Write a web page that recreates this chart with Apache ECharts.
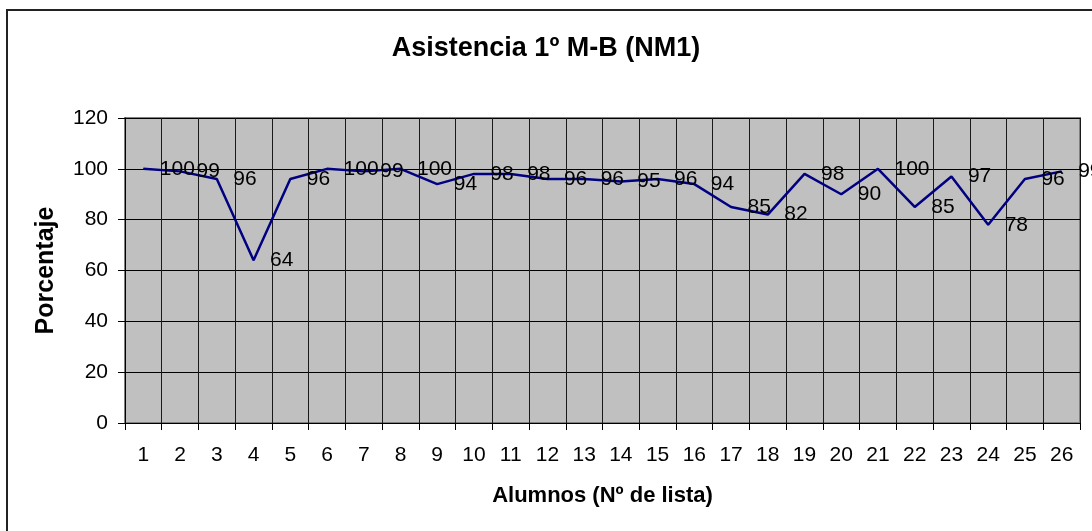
<!DOCTYPE html>
<html>
<head>
<meta charset="utf-8">
<script src="https://cdn.jsdelivr.net/npm/echarts@6/dist/echarts.min.js"></script>
<style>
html,body{margin:0;padding:0;background:#fff;}
#c{width:1092px;height:531px;}
</style>
</head>
<body>
<div id="c"></div>
<script>
const titleText = 'Asistencia 1º M-B (NM1)';
const xAxisName = 'Alumnos (Nº de lista)';
const yAxisName = 'Porcentaje';
const categories = ['1','2','3','4','5','6','7','8','9','10','11','12','13','14','15','16','17','18','19','20','21','22','23','24','25','26'];
const asistencia = [100,99,96,64,96,100,99,100,94,98,98,96,96,95,96,94,85,82,98,90,100,85,97,78,96,99];
const yTicks = [0,20,40,60,80,100,120];

const FONT = "'Liberation Sans', Arial, sans-serif";
const chart = echarts.init(document.getElementById('c'), null, {renderer:'canvas'});
chart.setOption({
  animation: false,
  backgroundColor: '#ffffff',
  textStyle: {fontFamily: FONT},
  graphic: [{
    type: 'rect',
    shape: {x: 7, y: 10, width: 1110, height: 560},
    style: {fill: 'none', stroke: '#222', lineWidth: 2},
    silent: true
  }],
  title: {
    text: titleText,
    left: 'center',
    top: 30,
    textStyle: {fontFamily: FONT, fontSize: 27, fontWeight: 'bold', color: '#000'}
  },
  grid: {
    left: 125, right: 12, top: 118, bottom: 108,
    show: true, backgroundColor: '#C0C0C0', borderColor: '#808080', borderWidth: 2
  },
  xAxis: {
    type: 'category',
    data: categories,
    boundaryGap: true,
    name: xAxisName,
    nameLocation: 'middle',
    nameGap: 62,
    nameTextStyle: {fontFamily: FONT, fontSize: 22, fontWeight: 'bold', color: '#000'},
    axisLine: {show: true, lineStyle: {color: '#000', width: 1}},
    axisTick: {show: true, length: 7, lineStyle: {color: '#000'}},
    axisLabel: {fontFamily: FONT, fontSize: 21, color: '#000', margin: 22, interval: 0},
    splitLine: {show: true, interval: 0, lineStyle: {color: '#1a1a1a', width: 1}}
  },
  yAxis: {
    type: 'value',
    min: yTicks[0],
    max: yTicks[yTicks.length - 1],
    interval: yTicks[1] - yTicks[0],
    name: yAxisName,
    nameLocation: 'middle',
    nameRotate: 90,
    nameGap: 66,
    nameTextStyle: {fontFamily: FONT, fontSize: 25, fontWeight: 'bold', color: '#000'},
    axisLine: {show: true, lineStyle: {color: '#000', width: 1}},
    axisTick: {show: true, length: 7, lineStyle: {color: '#000'}},
    axisLabel: {fontFamily: FONT, fontSize: 21, color: '#000', margin: 17},
    splitLine: {show: true, lineStyle: {color: '#000', width: 1}}
  },
  series: [{
    type: 'line',
    data: asistencia,
    symbol: 'circle',
    symbolSize: 1,
    showSymbol: true,
    itemStyle: {color: '#000080'},
    lineStyle: {color: '#000080', width: 2.5},
    label: {
      show: true,
      position: 'right',
      distance: 16,
      fontFamily: FONT,
      fontSize: 21,
      color: '#000'
    },
    z: 5
  }]
});
</script>
</body>
</html>
